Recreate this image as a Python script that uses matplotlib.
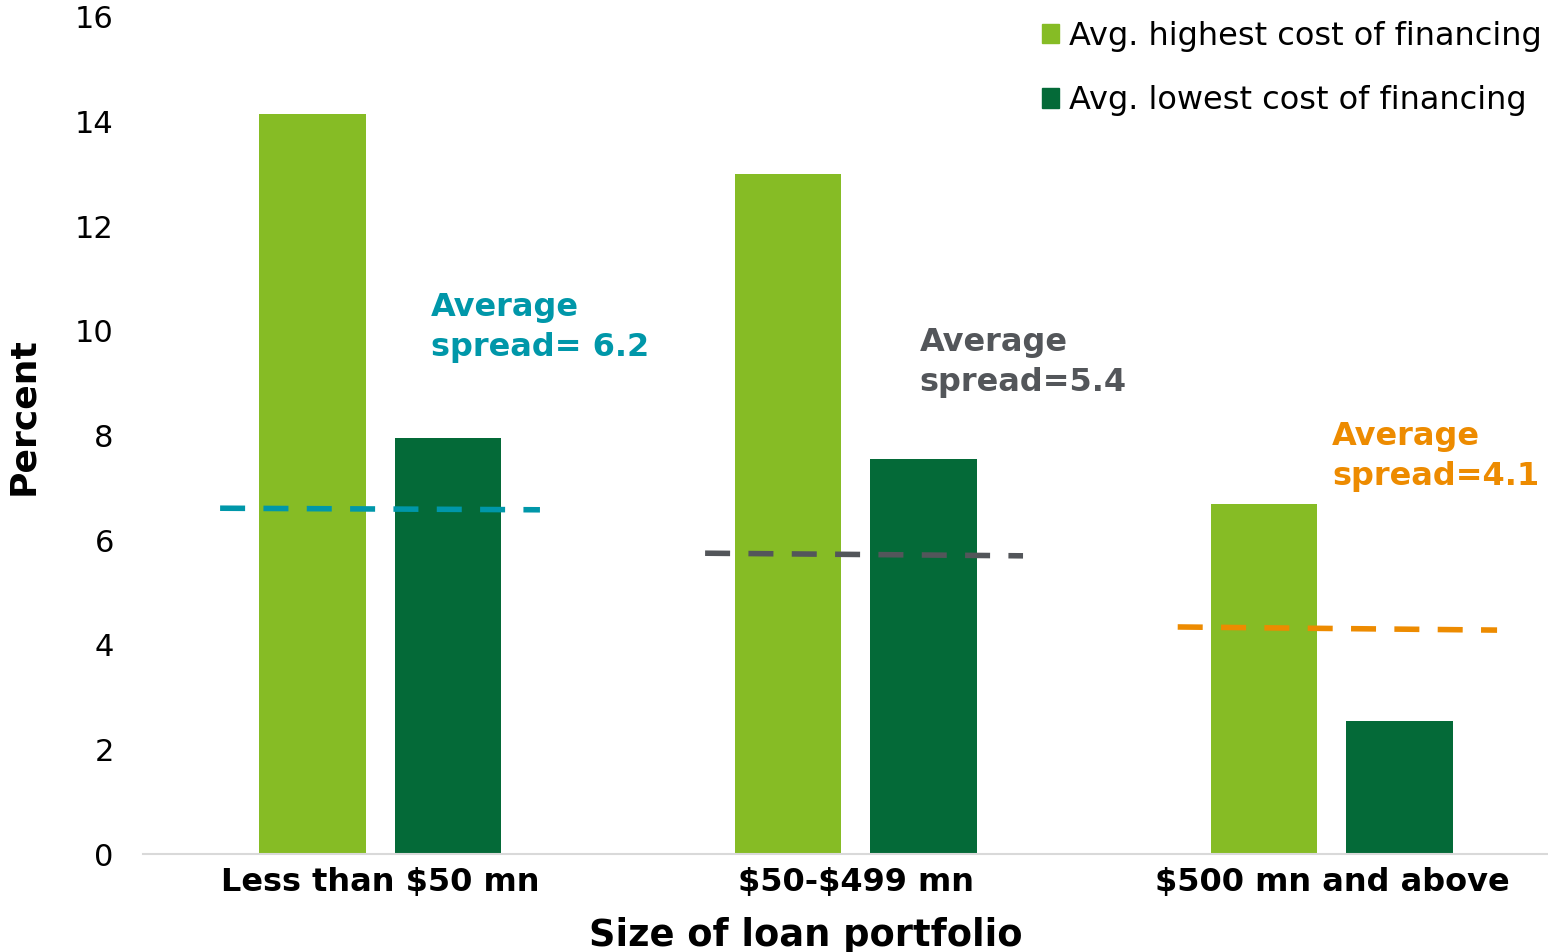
import numpy as np
import matplotlib.pyplot as plt
from matplotlib.patches import Patch

categories = ['Less than \\$50 mn', '\\$50-\\$499 mn', '\\$500 mn and above']
highest = [14.15, 13.0, 6.7]
lowest = [7.95, 7.55, 2.55]
series_names = ['Avg. highest cost of financing', 'Avg. lowest cost of financing']

# dashed "average" lines: (start value, end value) per group
avg_lines = [(6.61, 6.58), (5.75, 5.70), (4.34, 4.28)]
avg_text = ['Average\nspread= 6.2', 'Average\nspread=5.4', 'Average\nspread=4.1']
avg_colors = ['#0097A9', '#53565A', '#ED8B00']

light = '#86BC25'
dark = '#046A38'

fig = plt.figure(figsize=(15.48, 9.52), dpi=100)
ax = fig.add_axes([143 / 1548, 1 - 854 / 952, 1 - 143 / 1548, (854 - 17) / 952])

ind = np.arange(len(categories))
width = 0.223
off = 0.142
ax.bar(ind - off, highest, width, color=light)
ax.bar(ind + off, lowest, width, color=dark)

# dashed spread lines
line_x = [(-0.336, 0.336), (-0.317, 0.351), (-0.324, 0.347)]
for i, (ys, xs, c) in enumerate(zip(avg_lines, line_x, avg_colors)):
    ax.plot([i + xs[0], i + xs[1]], ys, color=c, lw=4, ls=(0, (4.5, 3.3)))

# annotations
text_pos = [(0.107, 10.75), (1.134, 10.08), (2.0, 8.28)]
for (x, y), t, c in zip(text_pos, avg_text, avg_colors):
    ax.text(x, y, t, color=c, fontsize=23, fontweight='bold', va='top',
            ha='left', linespacing=1.4)

ax.set_xlim(-0.498, 2.454)
ax.set_ylim(0, 16)
ax.set_yticks(np.arange(0, 17, 2))
ax.set_xticks(ind)
ax.set_xticklabels(categories, fontsize=23, fontweight='bold')
ax.tick_params(axis='y', labelsize=22, length=0, pad=21)
ax.tick_params(axis='x', length=0, pad=9)
for s in ['top', 'right', 'left']:
    ax.spines[s].set_visible(False)
ax.spines['bottom'].set_color('#D9D9D9')
ax.spines['bottom'].set_linewidth(1.5)

ax.set_ylabel('Percent', fontsize=26, fontweight='bold')
ax.yaxis.set_label_coords(-0.073, 0.523)
ax.set_xlabel('Size of loan portfolio', fontsize=26.5, fontweight='bold')
ax.xaxis.set_label_coords(0.472, -0.075)

handles = [Patch(color=light), Patch(color=dark)]
ax.legend(handles, series_names, loc='upper right', bbox_to_anchor=(1.016, 1.03),
          frameon=False, fontsize=23, handlelength=0.55, handleheight=0.55,
          handletextpad=0.3, labelspacing=1.05)

fig.savefig('out.png', dpi=100)
